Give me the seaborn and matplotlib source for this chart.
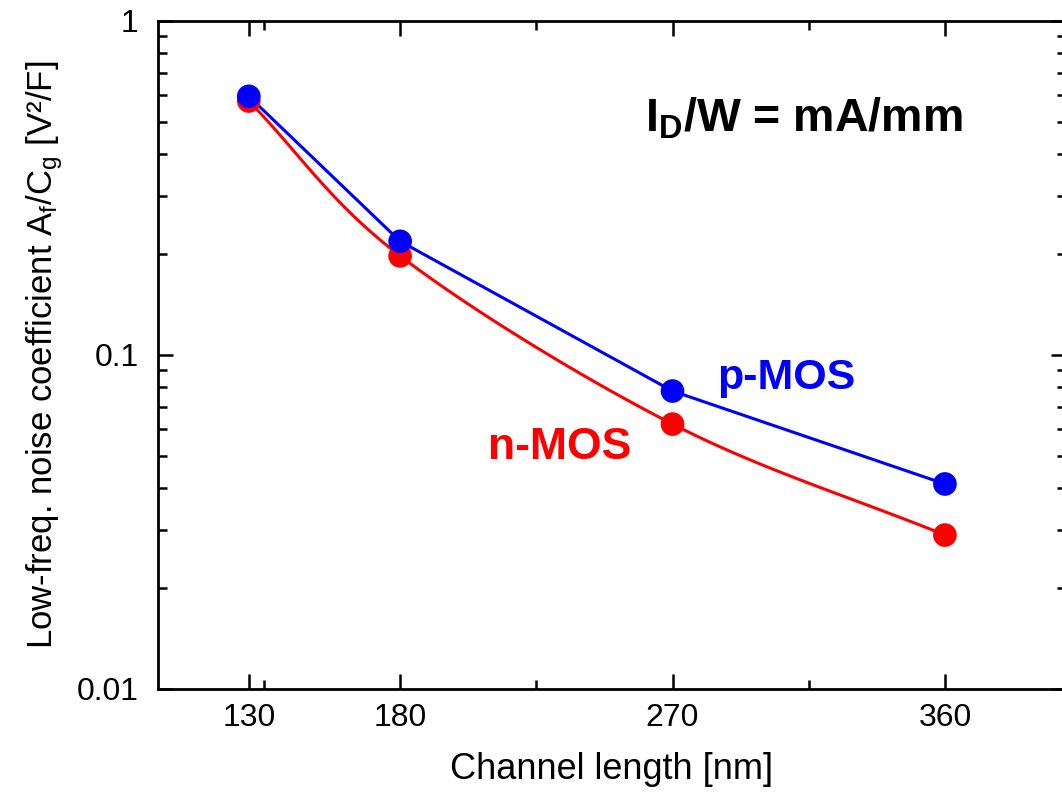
import numpy as np
import pandas as pd
import matplotlib
matplotlib.use("Agg")
import matplotlib.pyplot as plt
import seaborn as sns
from matplotlib.ticker import FixedLocator, LogLocator, NullFormatter, FixedFormatter

# Data
channel_length = [130, 180, 270, 360]
pmos = [0.595, 0.219, 0.078, 0.0411]
nmos = [0.576, 0.198, 0.0621, 0.0289]
x_major = [130, 180, 270, 360]
x_minor = [135, 225, 315]

sns.set_style("ticks")
plt.rcParams['font.family'] = ['Liberation Sans', 'DejaVu Sans']
plt.rcParams['mathtext.fontset'] = 'custom'
plt.rcParams['mathtext.rm'] = 'Liberation Sans'
plt.rcParams['mathtext.it'] = 'Liberation Sans'
plt.rcParams['mathtext.bf'] = 'Liberation Sans:bold'

fig = plt.figure(figsize=(10.62, 7.96), dpi=100)
ax = fig.add_axes([158/1062, 1-689/796, (1066-158)/1062, (689-21)/796])

def catmull(xs, ys, n=40):
    xs = np.asarray(xs, float); ys = np.asarray(ys, float)
    px = np.concatenate([[2*xs[0]-xs[1]], xs, [2*xs[-1]-xs[-2]]])
    py = np.concatenate([[2*ys[0]-ys[1]], ys, [2*ys[-1]-ys[-2]]])
    ox, oy = [], []
    for i in range(1, len(px)-2):
        t = np.linspace(0, 1, n, endpoint=False)
        for arr, out in ((px, ox), (py, oy)):
            p0, p1, p2, p3 = arr[i-1], arr[i], arr[i+1], arr[i+2]
            out.extend(0.5*((2*p1) + (-p0+p2)*t + (2*p0-5*p1+4*p2-p3)*t**2 + (-p0+3*p1-3*p2+p3)*t**3))
    ox.append(xs[-1]); oy.append(ys[-1])
    return np.array(ox), np.array(oy)

cx, cy = catmull(channel_length, np.log10(nmos))
curve = pd.DataFrame({"x": cx, "y": 10**cy})
sns.lineplot(data=curve, x="x", y="y", ax=ax, color="#ff0000", lw=2.2, sort=False)
sns.scatterplot(x=channel_length, y=nmos, ax=ax, color="#ff0000", s=290, edgecolor="none", zorder=3)

sns.lineplot(x=channel_length, y=pmos, ax=ax, color="#0000ff", lw=2.2)
sns.scatterplot(x=channel_length, y=pmos, ax=ax, color="#0000ff", s=290, edgecolor="none", zorder=4)

ax.set_yscale("log")
ax.set_ylim(0.01, 1)
ax.set_xlim(100, 400)

ax.xaxis.set_major_locator(FixedLocator(x_major))
ax.xaxis.set_minor_locator(FixedLocator(x_minor))
ax.set_xticklabels([str(v) for v in x_major])
ax.yaxis.set_major_locator(FixedLocator([0.01, 0.1, 1]))
ax.yaxis.set_major_formatter(FixedFormatter(["0.01", "0.1", "1"]))
ax.yaxis.set_minor_locator(LogLocator(base=10, subs=np.arange(2, 10)))
ax.yaxis.set_minor_formatter(NullFormatter())

ax.tick_params(which="both", direction="in", top=True, right=True, width=1.8,
               labelsize=23, colors="black")
ax.tick_params(axis="x", pad=10)
ax.tick_params(axis="y", pad=14)
ax.tick_params(which="major", length=11)
ax.tick_params(which="minor", length=6.5)
for s in ax.spines.values():
    s.set_linewidth(2)
    s.set_color("black")
    s.set_visible(True)

ax.set_xlabel("Channel length [nm]", fontsize=26, labelpad=14, color="black")
ax.set_ylabel(r"Low-freq. noise coefficient A$_f$/C$_g$ [V²/F]", fontsize=25, labelpad=8, color="black")

ax.text(0.536, 0.835, r"I$_\mathbf{D}$/W = mA/mm", transform=ax.transAxes, fontsize=33.5,
        fontweight="bold", ha="left", va="baseline", color="black")
ax.text(0.6156, 0.466, "p-MOS", transform=ax.transAxes, fontsize=31, fontweight="bold",
        color="#0000ff", ha="left", va="center")
ax.text(0.3634, 0.362, "n-MOS", transform=ax.transAxes, fontsize=32, fontweight="bold",
        color="#ff0000", ha="left", va="center")

fig.savefig("out.png", dpi=100)
